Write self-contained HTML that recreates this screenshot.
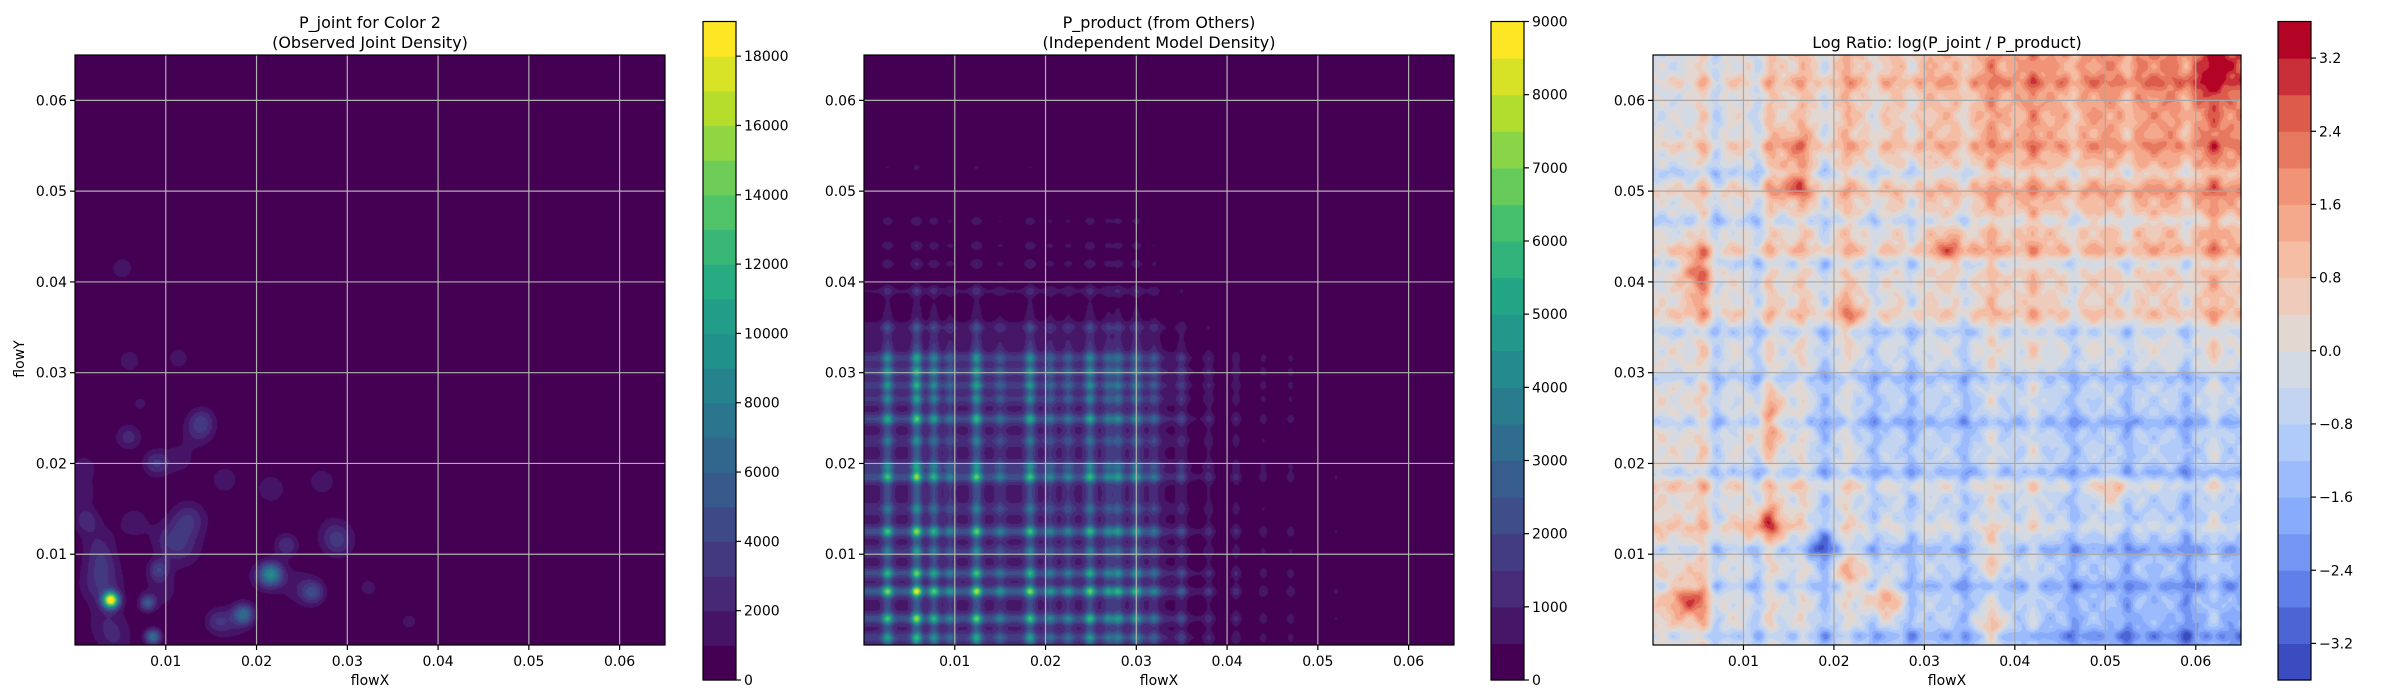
<!DOCTYPE html>
<html><head><meta charset="utf-8"><style>
body{margin:0;background:#fff;width:2400px;height:700px;overflow:hidden;font-family:"DejaVu Sans","Liberation Sans",sans-serif}
canvas{position:absolute}
svg{position:absolute;left:0;top:0}
</style></head><body>
<canvas id="c1" width="590" height="590" style="left:75px;top:55px"></canvas>
<canvas id="c2" width="590" height="590" style="left:864px;top:55px"></canvas>
<canvas id="c3" width="588" height="590" style="left:1653px;top:55px"></canvas>
<svg id="ov" width="2400" height="700"></svg>
<script>
// ---- data ----
const xTicks=[0.01,0.02,0.03,0.04,0.05,0.06];
const yTicks=[0.01,0.02,0.03,0.04,0.05,0.06];
const domain=[0,0.065];
// panel 1 blobs
const jointX=[.00395,.008,.0086,.0092,.0216,.0186,.0262,.0157,.0233,.029,.0089,.0059,.0137,.014,.0125,.0012,.0029,.0165,.0216,.0272,.0052,.006,.0114,.0072,.0368,.0323,.0029,.0007,.0105,.0045,.0035,.012,.0065,.0175,.0245,.0285,.001,.0115,.0025,.0095,.0205];
const jointY=[.00495,.0046,.0009,.0083,.0078,.0034,.0058,.0026,.011,.0113,.02,.0229,.0237,.0249,.0138,.0138,.0093,.0182,.0172,.018,.0415,.0313,.0316,.0266,.0026,.0063,.0068,.0167,.0115,.0005,.0025,.0105,.0135,.0025,.0065,.0125,.0195,.0205,.0115,.006,.0075];
const jointAmp=[18500,5000,7000,3500,8000,6000,4000,2500,3000,2500,3000,2500,2500,2000,3000,2500,2000,2000,1800,2000,1800,1800,1500,1200,1300,1300,3000,1800,2200,1500,1600,1700,1500,1500,1500,1500,1500,1400,1600,1600,1400];
const jointSig=[.0006,.0006,.0006,.0008,.0009,.0008,.0009,.001,.0009,.0012,.001,.001,.0012,.001,.0014,.001,.0012,.001,.0012,.001,.0009,.0009,.001,.0009,.0009,.001,.0016,.0011,.0014,.0014,.0016,.0016,.0014,.0014,.0016,.0014,.0012,.0014,.0014,.0014,.0012];
const jointLevels=19000;
// panel 2 marginal peaks
const pxPos=[.0026,.0058,.0077,.0095,.0124,.015,.0183,.0205,.0225,.0249,.0269,.028,.030,.032,.035,.038,.041,.044,.047,.052];
const pxAmp=[.75,1,.65,.35,.85,.3,.75,.35,.35,.7,.4,.5,.55,.35,.3,.2,.2,.15,.15,.1];
const pyPos=[.0008,.0029,.0059,.0079,.0103,.0125,.015,.0185,.0197,.0225,.0249,.0271,.0286,.0301,.0316,.035,.039,.042,.044,.0467,.0526];
const pyAmp=[.55,.8,1,.7,.4,.8,.3,.8,.45,.3,.65,.4,.5,.55,.45,.25,.2,.15,.15,.15,.1];
const productMax=8800, productLevels=9000;
// panel 3
const xLineBlue=[.0115,.019,.0245,.0285,.0465,.0525,.059,.007,.0345];
const xLineRed=[.013,.0215,.0055,.0375,.042,.062,.0165];
const yLineBlue=[.0245,.0295,.0467,.052,.019,.0105,.0065,.001,.0345,.042];
const yLineRed=[.013,.0175,.055,.062,.0365,.0435,.05];
const blobX=[.005,.004,.0155,.033,.0125,.0255,.051,.0185,.022,.0375,.0375,.0215,.0125,.013,.061,.063,.0155,.005];
const blobY=[.0415,.005,.051,.0435,.0135,.005,.017,.011,.008,.002,.01,.0365,.023,.026,.062,.064,.055,.038];
const blobV=[2.2,2.4,1.8,1.5,2.2,2.2,1.3,-1.8,1.3,1.5,1.1,1.0,1.3,1.2,0.8,0.8,1.0,0.8];
const ratioLevels=3.6;

// ---- helpers ----
function lerpStops(stops,t){t=Math.max(0,Math.min(1,t));const n=stops.length-1;const i=Math.min(n-1,Math.floor(t*n));const f=t*n-i;const a=stops[i],b=stops[i+1];return [a[0]+(b[0]-a[0])*f,a[1]+(b[1]-a[1])*f,a[2]+(b[2]-a[2])*f].map(Math.round);}
const VIR=[[68,1,84],[72,36,117],[65,68,135],[53,95,141],[42,120,142],[33,145,140],[34,168,132],[68,191,112],[122,209,81],[189,223,38],[253,231,37]];
const CW=[[59,76,192],[98,130,234],[141,176,254],[184,208,249],[221,221,221],[245,196,173],[244,154,123],[222,96,77],[180,4,38]];
function bandColors(stops,n){const a=[];for(let i=0;i<n;i++)a.push(lerpStops(stops,i/(n-1)));return a;}
const g=(d,s)=>Math.exp(-d*d/(2*s*s));

function drawField(id,W,H,fn,lo,hi,n,cols){
  const c=document.getElementById(id),ctx=c.getContext('2d'),im=ctx.createImageData(W,H);
  for(let j=0;j<H;j++){const y=domain[1]-(j+0.5)/H*(domain[1]-domain[0]);
    for(let i=0;i<W;i++){const x=domain[0]+(i+0.5)/W*(domain[1]-domain[0]);
      const v=fn(x,y,i,j);let b=Math.floor((v-lo)/(hi-lo)*n);b=Math.max(0,Math.min(n-1,b));
      const col=cols[b],k=(j*W+i)*4;im.data[k]=col[0];im.data[k+1]=col[1];im.data[k+2]=col[2];im.data[k+3]=255;}}
  ctx.putImageData(im,0,0);
}
// panel 1
drawField('c1',590,590,(x,y)=>{let s=0;for(let k=0;k<jointX.length;k++)s+=jointAmp[k]*g(x-jointX[k],jointSig[k])*g(y-jointY[k],jointSig[k]);return s;},0,jointLevels,19,bandColors(VIR,19));
// panel 2
function marg(pos,amp,v,cut){let s=0;for(let k=0;k<pos.length;k++)s+=amp[k]*g(v-pos[k],.0004);s+=0.45*(v<cut?1:Math.exp(-(v-cut)/.004));return s;}
const mx=[],my=[];for(let i=0;i<590;i++){mx.push(marg(pxPos,pxAmp,(i+.5)/590*.065,.031));my.push(marg(pyPos,pyAmp,.065-(i+.5)/590*.065,.032));}
const mxM=Math.max(...mx),myM=Math.max(...my);
drawField('c2',590,590,(x,y,i,j)=>mx[i]/mxM*my[j]/myM*productMax,0,productLevels,18,bandColors(VIR,18));
// panel 3
drawField('c3',588,590,(x,y)=>{const u=x/.065,w=y/.065;
  let v=0.05+u*4.3*(w-0.45)-0.35*w*(1-u)*(1-u)+0.4*g(x,.007)*(1-w);
  v-=0.6*g(y-.026,.005)*Math.min(1,u*3);
  for(const p of xLineBlue)v-=0.8*g(x-p,.0005);for(const p of xLineRed)v+=0.7*g(x-p,.0005);
  for(const p of yLineBlue)v-=0.8*g(y-p,.0005);for(const p of yLineRed)v+=0.6*g(y-p,.0005);
  v+=0.35*Math.sin(x*1900)*Math.sin(y*1700)+0.2*Math.sin(x*3300+1)*Math.sin(y*2900+2);
  for(let k=0;k<blobX.length;k++)v+=blobV[k]*g(x-blobX[k],.0015)*g(y-blobY[k],.0015);
  return v;},-ratioLevels,ratioLevels,18,bandColors(CW,18));

// ---- overlay ----
const NS='http://www.w3.org/2000/svg',ov=document.getElementById('ov');
function el(t,a,txt){const e=document.createElementNS(NS,t);for(const k in a)e.setAttribute(k,a[k]);if(txt!==undefined)e.textContent=txt;ov.appendChild(e);return e;}
function fmt(v){return v<0?'\u2212'+Math.abs(v).toFixed(1):v.toFixed(1);}
const panels=[
 {L:75,T:55,W:590,H:590,cb:703,title:['P_joint for Color 2','(Observed Joint Density)'],ylab:true,cbLo:0,cbHi:jointLevels,cbTicks:[0,2000,4000,6000,8000,10000,12000,14000,16000,18000],n:19,cols:bandColors(VIR,19),f:v=>String(v),grid:'#b0b0b0'},
 {L:864,T:55,W:590,H:590,cb:1491,title:['P_product (from Others)','(Independent Model Density)'],cbLo:0,cbHi:productLevels,cbTicks:[0,1000,2000,3000,4000,5000,6000,7000,8000,9000],n:18,cols:bandColors(VIR,18),f:v=>String(v),grid:'#b0b0b0'},
 {L:1653,T:55,W:588,H:590,cb:2278,title:['Log Ratio: log(P_joint / P_product)'],cbLo:-ratioLevels,cbHi:ratioLevels,cbTicks:[-3.2,-2.4,-1.6,-0.8,0,0.8,1.6,2.4,3.2],n:18,cols:bandColors(CW,18),f:fmt,grid:'#a8a8a8'}];
panels.forEach((p,pi)=>{
  const sx=v=>p.L+(v-domain[0])/(domain[1]-domain[0])*p.W, sy=v=>p.T+p.H-(v-domain[0])/(domain[1]-domain[0])*p.H;
  xTicks.forEach(t=>{
    const l=el('line',{x1:sx(t),x2:sx(t),y1:p.T,y2:p.T+p.H,stroke:p.grid,'stroke-width':1.2});
    
    el('line',{x1:sx(t),x2:sx(t),y1:p.T+p.H,y2:p.T+p.H+5,stroke:'#000','stroke-width':1.2});
    const tx=el('text',{x:sx(t),y:p.T+p.H+21,'text-anchor':'middle','font-size':14},t.toFixed(2));
    
  });
  yTicks.forEach(t=>{
    const l=el('line',{x1:p.L,x2:p.L+p.W,y1:sy(t),y2:sy(t),stroke:p.grid,'stroke-width':1.2});
    
    el('line',{x1:p.L-5,x2:p.L,y1:sy(t),y2:sy(t),stroke:'#000','stroke-width':1.2});
    const tx=el('text',{x:p.L-8,y:sy(t)+5,'text-anchor':'end','font-size':14},t.toFixed(2));
    
  });
  const fr=el('rect',{x:p.L,y:p.T,width:p.W,height:p.H,fill:'none',stroke:'#000','stroke-width':1.2});
  
  const xl=el('text',{x:p.L+p.W/2,y:685,'text-anchor':'middle','font-size':14},'flowX');
  
  if(p.ylab){const yl=el('text',{x:0,y:0,'text-anchor':'middle','font-size':14,transform:'translate(24,359) rotate(-90)'},'flowY');
    }
  const ty=p.title.length==2?[28,48]:[48];
  p.title.forEach((s,k)=>{const t=el('text',{x:p.L+p.W/2,y:ty[k],'text-anchor':'middle','font-size':16},s);
    });
  // colorbar
  const cT=21.5,cB=680,cW=33;const bh=(cB-cT)/p.n;
  for(let k=0;k<p.n;k++){const c=p.cols[k];
    const r=el('rect',{x:p.cb,y:cB-(k+1)*bh,width:cW,height:bh+0.6,fill:`rgb(${c[0]},${c[1]},${c[2]})`});
    }
  const cf=el('rect',{x:p.cb,y:cT,width:cW,height:cB-cT,fill:'none',stroke:'#000','stroke-width':1.2});
  
  p.cbTicks.forEach(t=>{const y=cB-(t-p.cbLo)/(p.cbHi-p.cbLo)*(cB-cT);
    el('line',{x1:p.cb+cW,x2:p.cb+cW+5,y1:y,y2:y,stroke:'#000','stroke-width':1.2});
    const tx=el('text',{x:p.cb+cW+8,y:y+5,'font-size':14},p.f(t));
    });
});
</script>
</body></html>
